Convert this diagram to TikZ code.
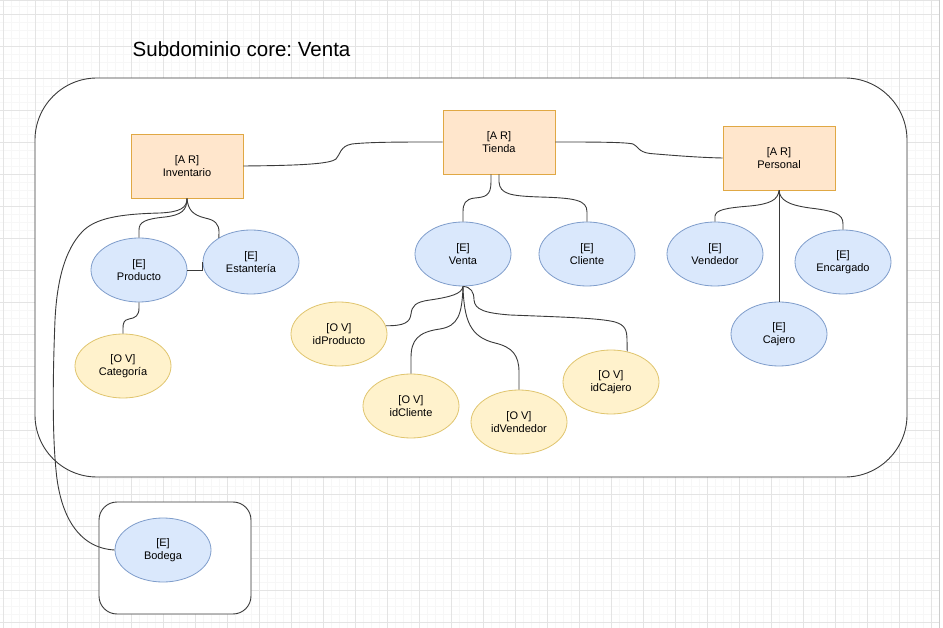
\documentclass[tikz,border=0pt]{standalone}
\usepackage{fontspec}
\setmainfont{Liberation Sans}
\usetikzlibrary{shapes.geometric}
\definecolor{arfill}{HTML}{FFE6CC}
\definecolor{ardraw}{HTML}{E0A844}
\definecolor{efill}{HTML}{DAE8FC}
\definecolor{edraw}{HTML}{7F9DCB}
\definecolor{ofill}{HTML}{FFF2CC}
\definecolor{odraw}{HTML}{E0C56E}
\definecolor{edgec}{HTML}{3A3A3A}
\definecolor{gmaj}{HTML}{E4E4E4}
\definecolor{gmin}{HTML}{F7F7F7}
\frenchspacing
\begin{document}
\begin{tikzpicture}[x=1pt,y=-1pt,
 arbox/.style={rectangle, draw=ardraw, fill=arfill, line width=0.9pt, minimum width=112pt, minimum height=64pt, inner sep=0pt, align=center, font=\fontsize{11}{13}\selectfont},
 ent/.style={ellipse, draw=edraw, fill=efill, line width=0.8pt, minimum width=96pt, minimum height=64pt, inner sep=0pt, align=center, font=\fontsize{11}{13}\selectfont},
 ov/.style={ent, draw=odraw, fill=ofill},
 conn/.style={draw=edgec, line width=0.9pt},
 container/.style={draw=edgec, line width=0.9pt, fill=white},
 gridmin/.style={draw=gmin, line width=0.8pt},
 gridmaj/.style={draw=gmaj, line width=0.9pt}]
\useasboundingbox (0,0) rectangle (943,628);
\fill[white] (0,0) rectangle (943,628);
% grid
\foreach \x in {11.7,19.7,...,939} {\draw[gridmin] (\x,0) -- (\x,628);}
\foreach \y in {6.3,14.3,...,628} {\draw[gridmin] (0,\y) -- (939,\y);}
\foreach \x in {3.7,35.7,...,935} {\draw[gridmaj] (\x,0) -- (\x,628);}
\foreach \y in {14.3,46.3,...,628} {\draw[gridmaj] (0,\y) -- (939,\y);}
\draw[draw=gmaj, line width=0.9pt] (0,0.7) -- (939,0.7);
\draw[draw=gmaj!90!black, line width=1.6pt] (939.3,0) -- (939.3,628);

% title
\node[anchor=base west, inner sep=0pt, font=\fontsize{20.5}{24}\selectfont] (title) at (132.5,56.7) {Subdominio core: Venta};

% containers
\node[container, rounded corners=62pt, minimum width=872pt, minimum height=399pt, inner sep=0pt] (core) at (471,277.5) {};
\node[container, rounded corners=18pt, minimum width=152pt, minimum height=112pt, inner sep=0pt] (bodbox) at (175,558) {};

% aggregate roots
\node[arbox] (inv) at (187,166) {[A R]\\Inventario};
\node[arbox] (tienda) at (499,142) {[A R]\\Tienda};
\node[arbox] (personal) at (779,158) {[A R]\\Personal};

% entities
\node[ent] (prod) at (139,270) {[E]\\Producto};
\node[ent] (est) at (251,262) {[E]\\Estantería};
\node[ent] (venta) at (463,254) {[E]\\Venta};
\node[ent] (cliente) at (587,254) {[E]\\Cliente};
\node[ent] (vend) at (715,254) {[E]\\Vendedor};
\node[ent] (enc) at (843,262) {[E]\\Encargado};
\node[ent] (cajero) at (779,334) {[E]\\Cajero};
\node[ent] (bodega) at (163,550) {[E]\\Bodega};

% value objects
\node[ov] (cat) at (123,366) {[O V]\\Categoría};
\node[ov] (idprod) at (339,334) {[O V]\\idProducto};
\node[ov] (idcli) at (411,406) {[O V]\\idCliente};
\node[ov] (idvend) at (519,422) {[O V]\\idVendedor};
\node[ov] (idcaj) at (611,382) {[O V]\\idCajero};

% connectors
\draw[conn] (inv.east) .. controls (300,165.5) and (330,164) .. (336,159)
  .. controls (340,155) and (340,146) .. (352,144)
  .. controls (370,142) and (400,142) .. (tienda.west);
\draw[conn] (tienda.east) .. controls (590,142) and (625,142) .. (633,144)
  .. controls (638,146) and (638,152) .. (650,153.5)
  .. controls (680,156) and (700,157.5) .. (personal.west);
\draw[conn] ([xshift=-8pt]tienda.south) -- (491,182) .. controls (491,196) and (485,197) .. (475,198)
  .. controls (465,199) and (463,204) .. (463,212) -- (venta.north);
\draw[conn] (tienda.south) -- (499,182) .. controls (500,194) and (510,196) .. (540,197)
  .. controls (575,198) and (587,200) .. (587,212) -- (cliente.north);
\draw[conn] (inv.south) .. controls (187,210) and (182,215) .. (165,217)
  .. controls (145,219) and (139,222) .. (139,230) -- (prod.north);
\draw[conn] (inv.south) .. controls (188,210) and (193,215) .. (205,218)
  .. controls (215,220) and (219,224) .. (219,232) -- (est.143);
\draw[conn] (inv.south) .. controls (187,208) and (180,212) .. (160,213)
  .. controls (120,214) and (95,218) .. (82,232)
  .. controls (65,250) and (57,280) .. (55,320)
  .. controls (53,370) and (52,430) .. (56,470)
  .. controls (60,515) and (78,548) .. (bodega.west);
\draw[conn] (prod.south) -- (139,308) .. controls (139,316) and (135,318) .. (129,319)
  .. controls (124,320) and (123,323) .. (123,328) -- (cat.north);
\draw[conn] (prod.east) -- (prod.east -| est.west) -- (est.west);
\draw[conn] (venta.south) .. controls (462,294) and (450,297) .. (430,300)
  .. controls (415,302) and (412,306) .. (411,314)
  .. controls (410,322) and (405,326) .. (idprod.10);
\draw[conn] (venta.south) .. controls (462,315) and (458,326) .. (440,329)
  .. controls (418,332) and (411,340) .. (411,358) -- (idcli.north);
\draw[conn] (venta.south) .. controls (464,320) and (470,337) .. (495,343)
  .. controls (512,347) and (519,355) .. (519,372) -- (idvend.north);
\draw[conn] (venta.south) .. controls (471,287) and (474,292) .. (474,300)
  .. controls (475,310) and (485,313) .. (510,315)
  .. controls (560,317) and (600,318) .. (615,322)
  .. controls (625,325) and (627,330) .. (627,340) -- (idcaj.62);
\draw[conn] (personal.south) .. controls (778,200) and (770,204) .. (750,206)
  .. controls (725,208) and (716,210) .. (715,216) -- (vend.north);
\draw[conn] (personal.south) -- (cajero.north);
\draw[conn] (personal.south) .. controls (780,200) and (788,205) .. (810,208)
  .. controls (835,211) and (843,214) .. (843,224) -- (enc.north);
\end{tikzpicture}
\end{document}
